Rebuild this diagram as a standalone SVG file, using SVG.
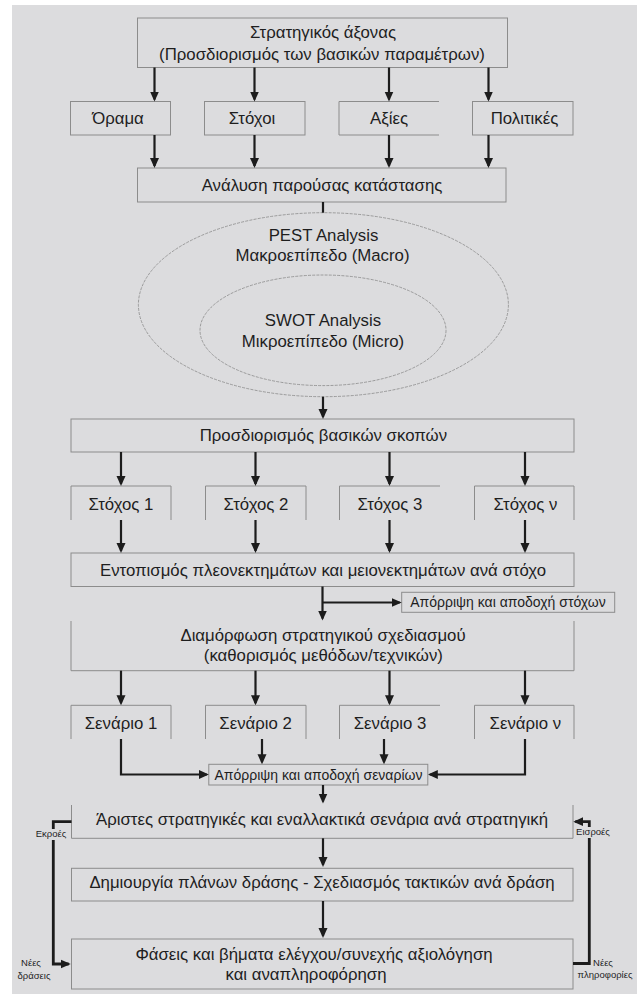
<svg xmlns="http://www.w3.org/2000/svg" width="639" height="998" viewBox="0 0 639 998">
<style>
.bg{fill:#dcdcde}
.box{fill:none;stroke:#8c8c8c;stroke-width:1}
.ell{fill:none;stroke:#8a8a8a;stroke-width:0.8;stroke-dasharray:3 1.2}
text{font-family:"Liberation Sans",Arial,sans-serif;fill:#1e1e1e;text-anchor:middle}
.t{font-size:16.8px}
.s{font-size:14px}
.xs{font-size:9.5px}
.c{fill:none;stroke:#1c1c1c;stroke-width:2.2}
.cw{fill:none;stroke:#1c1c1c;stroke-width:2.8}
</style>
<defs>
<marker id="ah" viewBox="0 0 10 10" refX="8" refY="5" markerWidth="10" markerHeight="10" markerUnits="userSpaceOnUse" orient="auto"><path d="M0,0.5 L10,5 L0,9.5 z" fill="#1c1c1c"/></marker>
</defs>
<rect class="bg" x="12" y="5" width="625" height="989"/>

<g id="n-axonas"><rect class="box" x="137.5" y="18" width="370" height="49.5"/>
<text class="t" x="323" y="37.5">Στρατηγικός άξονας</text>
<text class="t" x="322" y="59.5">(Προσδιορισμός των βασικών παραμέτρων)</text></g>

<g id="n-orama"><rect class="box" x="70.5" y="101.5" width="100" height="33.5"/><text class="t" x="118" y="124">Όραμα</text></g>
<g id="n-stoxoi"><rect class="box" x="204.5" y="101.5" width="100.5" height="33.5"/><text class="t" x="252" y="124">Στόχοι</text></g>
<g id="n-axies"><path class="box" d="M439 101.5 H339 V135 H439"/><text class="t" x="389" y="124">Αξίες</text></g>
<g id="n-politikes"><rect class="box" x="472.5" y="101.5" width="100.5" height="33.5"/><text class="t" x="524.5" y="124">Πολιτικές</text></g>

<g id="n-analysi"><rect class="box" x="137.5" y="168" width="368.5" height="34"/><text class="t" x="322" y="191">Ανάλυση παρούσας κατάστασης</text></g>

<g id="n-pest"><ellipse class="ell" cx="323.4" cy="304.7" rx="185" ry="92"/>
<text class="t" x="323.5" y="240.7">PEST Analysis</text>
<text class="t" x="322.5" y="261">Μακροεπίπεδο (Macro)</text></g>
<g id="n-swot"><ellipse class="ell" cx="323" cy="330.3" rx="123" ry="55.3"/>
<text class="t" x="323" y="326">SWOT Analysis</text>
<text class="t" x="323" y="346.7">Μικροεπίπεδο (Micro)</text></g>

<g id="n-skopoi"><rect class="box" x="71" y="419" width="503" height="33"/><text class="t" x="323.4" y="441">Προσδιορισμός βασικών σκοπών</text></g>

<g id="n-stoxos1"><path class="box" d="M71 520 V486 H171 V520"/><text class="t" x="121" y="509.5">Στόχος 1</text></g>
<g id="n-stoxos2"><path class="box" d="M205.5 520 V486 H306 V520"/><text class="t" x="256" y="509.5">Στόχος 2</text></g>
<g id="n-stoxos3"><path class="box" d="M339.5 520 V486 H440"/><text class="t" x="390" y="509.5">Στόχος 3</text></g>
<g id="n-stoxosn"><path class="box" d="M474.5 520 V486 H574 V520"/><text class="t" x="525.4" y="509.5">Στόχος ν</text></g>

<g id="n-entopismos"><rect class="box" x="71" y="553" width="503" height="33.5"/><text class="t" x="323" y="575.5">Εντοπισμός πλεονεκτημάτων και μειονεκτημάτων ανά στόχο</text></g>

<g id="n-aporripsi1"><rect class="box" x="401.7" y="592.3" width="213" height="20"/><text class="s" x="508" y="607">Απόρριψη και αποδοχή στόχων</text></g>

<g id="n-diamorfosi"><path class="box" d="M71 621 V670.7 H574 V621"/>
<text class="t" x="323" y="640.5">Διαμόρφωση στρατηγικού σχεδιασμού</text>
<text class="t" x="323.4" y="660.5">(καθορισμός μεθόδων/τεχνικών)</text></g>

<g id="n-senario1"><path class="box" d="M71 739 V705.3 H171 V739"/><text class="t" x="121" y="728.5">Σενάριο 1</text></g>
<g id="n-senario2"><path class="box" d="M205.5 739 V705.3 H306 V739"/><text class="t" x="255.6" y="728.5">Σενάριο 2</text></g>
<g id="n-senario3"><path class="box" d="M339.5 739 V705.3 H440"/><text class="t" x="390" y="728.5">Σενάριο 3</text></g>
<g id="n-senarion"><path class="box" d="M474.5 739 V705.3 H574 V739"/><text class="t" x="525.4" y="728.5">Σενάριο ν</text></g>

<g id="n-aporripsi2"><rect class="box" x="208.8" y="764.3" width="219" height="20.7"/><text class="s" x="318.5" y="779.5">Απόρριψη και αποδοχή σεναρίων</text></g>

<g id="n-aristes"><path class="box" d="M71.5 805 V838.3 H573 V805"/><text class="t" x="322" y="825">Άριστες στρατηγικές και εναλλακτικά σενάρια ανά στρατηγική</text></g>

<g id="n-dimiourgia"><rect class="box" x="71.5" y="868.3" width="501.5" height="32.7"/><text class="t" x="322" y="888.3">Δημιουργία πλάνων δράσης - Σχεδιασμός τακτικών ανά δράση</text></g>

<g id="n-faseis"><rect class="box" x="71.5" y="939" width="501.5" height="50"/>
<text class="t" x="314" y="959.5">Φάσεις και βήματα ελέγχου/συνεχής αξιολόγηση</text>
<text class="t" x="306" y="980">και αναπληροφόρηση</text></g>

<g id="connectors">
<path class="c" marker-end="url(#ah)" d="M154.5 67.5 V99.5"/>
<path class="c" marker-end="url(#ah)" d="M254.5 67.5 V99.5"/>
<path class="c" marker-end="url(#ah)" d="M389 67.5 V99.5"/>
<path class="c" marker-end="url(#ah)" d="M488.5 67.5 V99.5"/>
<path class="c" marker-end="url(#ah)" d="M154.5 135 V166"/>
<path class="c" marker-end="url(#ah)" d="M254.5 135 V166"/>
<path class="c" marker-end="url(#ah)" d="M389 135 V166"/>
<path class="c" marker-end="url(#ah)" d="M488.5 135 V166"/>
<path class="c" d="M323 202 V212.7"/>
<path class="c" marker-end="url(#ah)" d="M323 396.7 V417"/>
<path class="c" marker-end="url(#ah)" d="M121 452 V484"/>
<path class="c" marker-end="url(#ah)" d="M255.5 452 V484"/>
<path class="c" marker-end="url(#ah)" d="M389.5 452 V484"/>
<path class="c" marker-end="url(#ah)" d="M525 452 V484"/>
<path class="c" marker-end="url(#ah)" d="M121 520 V551"/>
<path class="c" marker-end="url(#ah)" d="M255.5 520 V551"/>
<path class="c" marker-end="url(#ah)" d="M389.5 520 V551"/>
<path class="c" marker-end="url(#ah)" d="M525 520 V551"/>
<path class="c" marker-end="url(#ah)" d="M322.5 586.5 V618.5"/>
<path class="c" marker-end="url(#ah)" d="M322.5 602.5 H399.7"/>
<path class="c" marker-end="url(#ah)" d="M121 670.7 V703.3"/>
<path class="c" marker-end="url(#ah)" d="M255.5 670.7 V703.3"/>
<path class="c" marker-end="url(#ah)" d="M389.5 670.7 V703.3"/>
<path class="c" marker-end="url(#ah)" d="M525 670.7 V703.3"/>
<path class="c" marker-end="url(#ah)" d="M121 739 V774.5 H206.8"/>
<path class="c" marker-end="url(#ah)" d="M525 739 V774.5 H429.8"/>
<path class="c" marker-end="url(#ah)" d="M262 739 V762.3"/>
<path class="c" marker-end="url(#ah)" d="M384 739 V762.3"/>
<path class="c" marker-end="url(#ah)" d="M323 785 V801.5"/>
<path class="c" marker-end="url(#ah)" d="M323 838.3 V865"/>
<path class="c" marker-end="url(#ah)" d="M323 901 V936"/>
<path class="cw" marker-end="url(#ah)" d="M71.5 821.7 H53.3 V964 H68.7"/>
<path class="cw" marker-end="url(#ah)" d="M573 963.5 H589.3 V821.7 H575.3"/>
</g>

<g id="side-labels">
<rect class="bg" x="35" y="829" width="33" height="11"/>
<text class="xs" x="51" y="837">Εκροές</text>
<rect class="bg" x="577" y="827" width="32" height="11"/>
<text class="xs" x="593" y="835">Εισροές</text>
<text class="xs" x="31" y="966">Νέες</text>
<text class="xs" x="34" y="979">δράσεις</text>
<text class="xs" x="603" y="966">Νέες</text>
<text class="xs" x="605" y="978">πληροφορίες</text>
</g>
</svg>
